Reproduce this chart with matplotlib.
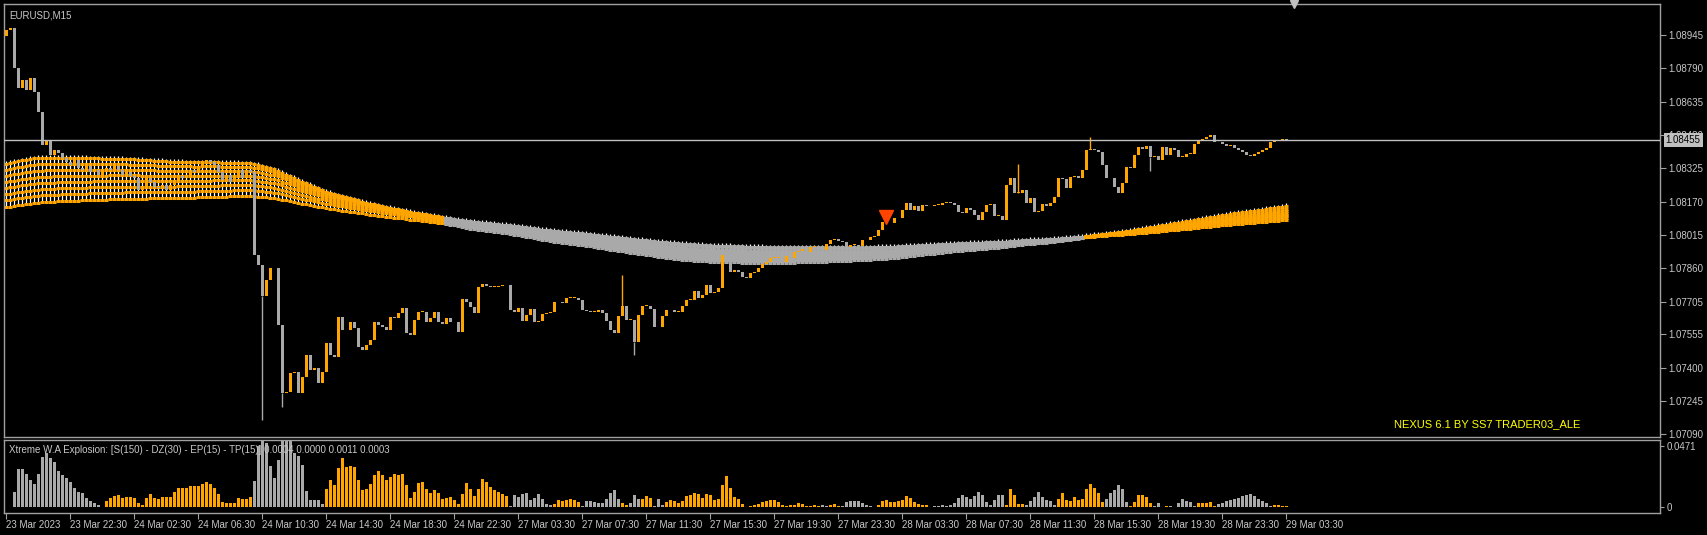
import matplotlib
matplotlib.use("Agg")
import matplotlib.pyplot as plt
import numpy as np

plt.rcParams['font.family'] = ['Liberation Sans', 'DejaVu Sans']

# EURUSD M15 closes, one per bar (23 Mar 18:00 -> 29 Mar 03:30)
closes = [
    1.08968, 1.08977, 1.08791, 1.08698, 1.08735, 1.08689, 1.08745, 1.08680, 1.08587, 1.08433,
    1.08457, 1.08387, 1.08410, 1.08396, 1.08373, 1.08355, 1.08343, 1.08364, 1.08327, 1.08317,
    1.08336, 1.08308, 1.08317, 1.08294, 1.08308, 1.08327, 1.08317, 1.08336, 1.08317, 1.08294,
    1.08308, 1.08289, 1.08280, 1.08225, 1.08234, 1.08280, 1.08262, 1.08238, 1.08234, 1.08248,
    1.08225, 1.08248, 1.08271, 1.08289, 1.08280, 1.08294, 1.08317, 1.08308, 1.08327, 1.08355,
    1.08364, 1.08355, 1.08343, 1.08308, 1.08271, 1.08294, 1.08262, 1.08289, 1.08317, 1.08280,
    1.08317, 1.08308, 1.07922, 1.07876, 1.07732, 1.07806, 1.07862, 1.07862, 1.07597, 1.07282,
    1.07286, 1.07375, 1.07379, 1.07282, 1.07356, 1.07458, 1.07389, 1.07398, 1.07328, 1.07379,
    1.07514, 1.07458, 1.07449, 1.07635, 1.07574, 1.07574, 1.07611, 1.07583, 1.07495, 1.07481,
    1.07505, 1.07528, 1.07611, 1.07597, 1.07588, 1.07574, 1.07635, 1.07630, 1.07653, 1.07676,
    1.07560, 1.07551, 1.07621, 1.07658, 1.07658, 1.07611, 1.07630, 1.07658, 1.07611, 1.07602,
    1.07630, 1.07611, 1.07611, 1.07565, 1.07718, 1.07704, 1.07681, 1.07653, 1.07774, 1.07788,
    1.07779, 1.07774, 1.07774, 1.07779, 1.07783, 1.07783, 1.07667, 1.07658, 1.07676, 1.07616,
    1.07644, 1.07672, 1.07611, 1.07616, 1.07648, 1.07653, 1.07658, 1.07704, 1.07704, 1.07700,
    1.07723, 1.07723, 1.07723, 1.07714, 1.07667, 1.07662, 1.07658, 1.07658, 1.07667, 1.07653,
    1.07616, 1.07574, 1.07560, 1.07639, 1.07686, 1.07621, 1.07621, 1.07518, 1.07644, 1.07686,
    1.07686, 1.07672, 1.07588, 1.07588, 1.07639, 1.07667, 1.07667, 1.07658, 1.07658, 1.07686,
    1.07714, 1.07714, 1.07755, 1.07723, 1.07737, 1.07783, 1.07746, 1.07751, 1.07769, 1.07922,
    1.07913, 1.07844, 1.07853, 1.07844, 1.07820, 1.07816, 1.07839, 1.07844, 1.07862, 1.07881,
    1.07890, 1.07909, 1.07909, 1.07913, 1.07890, 1.07918, 1.07909, 1.07936, 1.07941, 1.07950,
    1.07936, 1.07960, 1.07964, 1.07955, 1.07946, 1.07973, 1.07992, 1.07997, 1.07987, 1.07983,
    1.07960, 1.07969, 1.07969, 1.07964, 1.07992, 1.07992, 1.08006, 1.08011, 1.08039, 1.08076,
    1.08071, 1.08071, 1.08094, 1.08094, 1.08132, 1.08164, 1.08132, 1.08150, 1.08127, 1.08155,
    1.08150, 1.08150, 1.08155, 1.08155, 1.08164, 1.08169, 1.08164, 1.08155, 1.08122, 1.08118,
    1.08141, 1.08132, 1.08108, 1.08085, 1.08122, 1.08155, 1.08159, 1.08104, 1.08104, 1.08085,
    1.08248, 1.08280, 1.08211, 1.08211, 1.08225, 1.08164, 1.08187, 1.08122, 1.08127, 1.08159,
    1.08150, 1.08164, 1.08192, 1.08280, 1.08276, 1.08234, 1.08285, 1.08289, 1.08280, 1.08317,
    1.08410, 1.08416, 1.08410, 1.08401, 1.08343, 1.08280, 1.08280, 1.08238, 1.08211, 1.08257,
    1.08331, 1.08327, 1.08387, 1.08424, 1.08416, 1.08429, 1.08378, 1.08383, 1.08364, 1.08424,
    1.08387, 1.08420, 1.08410, 1.08378, 1.08378, 1.08392, 1.08392, 1.08438, 1.08452, 1.08461,
    1.08471, 1.08480, 1.08447, 1.08447, 1.08438, 1.08429, 1.08433, 1.08420, 1.08410, 1.08401,
    1.08387, 1.08383, 1.08392, 1.08401, 1.08410, 1.08420, 1.08447, 1.08457, 1.08452, 1.08461,
    1.08455,
]
first_open = 1.08940

# a few long wicks that stand out: bar -> (high, low)
wicks = {
    64: (None, 1.07156), 69: (None, 1.07217), 154: (1.07830, None),
    157: (None, 1.07458), 253: (1.08345, None), 271: (1.08471, None),
    286: (None, 1.08312),
}

# ribbon seeds (price at first bar) and EMA periods, fast to slow
ribbon_periods = [220, 250, 280, 310, 340, 370, 400, 430]
ribbon_seeds = [1.08340, 1.08312, 1.08284, 1.08256, 1.08228, 1.08200, 1.08172, 1.08140]

price_ticks = [1.08945, 1.08790, 1.08635, 1.08480, 1.08325, 1.08170, 1.08015,
               1.07860, 1.07705, 1.07555, 1.07400, 1.07245, 1.07090]
last_price = 1.08455

time_labels = ["23 Mar 2023", "23 Mar 22:30", "24 Mar 02:30", "24 Mar 06:30", "24 Mar 10:30",
               "24 Mar 14:30", "24 Mar 18:30", "24 Mar 22:30", "27 Mar 03:30", "27 Mar 07:30",
               "27 Mar 11:30", "27 Mar 15:30", "27 Mar 19:30", "27 Mar 23:30", "28 Mar 03:30",
               "28 Mar 07:30", "28 Mar 11:30", "28 Mar 15:30", "28 Mar 19:30", "28 Mar 23:30",
               "29 Mar 03:30"]
bars_per_label = 16
signal_bar = 220

ORANGE = "#ffa500"
GRAY = "#a9a9a9"
FRAME = "#a0a0a0"
TXT = "#c8c8c8"
FS = 7

c = np.array(closes)
n = len(c)
o = np.concatenate([[first_open], c[:-1]])
x = np.arange(n)


def ema(values, period, seed):
    a = 2.0 / (period + 1)
    out = np.empty(len(values))
    prev = seed
    for k, v in enumerate(values):
        prev = prev + a * (v - prev)
        out[k] = prev
    return out


W, H = 1707, 535
fig = plt.figure(figsize=(W / 100, H / 100), dpi=100, facecolor="black")
ax = fig.add_axes([4 / W, 1 - 437 / H, 1656 / W, 433 / H], facecolor="black")
sub = fig.add_axes([4 / W, 1 - 513 / H, 1656 / W, 73 / H], facecolor="black")

for a in (ax, sub):
    for s in a.spines.values():
        s.set_color(FRAME)
        s.set_linewidth(1)
    a.set_xlim(-0.5, 413.5)

# --- ribbon
emas = np.array([ema(c, p, s) for p, s in zip(ribbon_periods, ribbon_seeds)])
top = emas.max(axis=0)
bot = emas.min(axis=0)
ax.vlines(x, bot, top + 0.00012, color="white", lw=0.9, zorder=1)
for k in range(n):
    bull = emas[0, k] >= emas[-1, k]
    col = ORANGE if bull else GRAY
    if not bull:
        ax.vlines(k, emas[0, k], emas[3, k], color=GRAY, lw=3, zorder=2)
    ax.hlines(emas[:, k], k - 0.38, k + 0.38, color=col, lw=2.2, zorder=2)

# --- candles
hi = np.maximum(o, c)
lo = np.minimum(o, c)
colors = [ORANGE if c[k] >= o[k] else GRAY for k in range(n)]
for k, (h, l) in wicks.items():
    if h is not None:
        ax.vlines(k, hi[k], h, color=colors[k], lw=1, zorder=3)
    if l is not None:
        ax.vlines(k, l, lo[k], color=colors[k], lw=1, zorder=3)
body = np.maximum(hi - lo, 0.000025)
ax.bar(x, body, bottom=lo, width=0.75, color=colors, linewidth=0, zorder=3)

ax.axhline(last_price, color="#c0c0c0", lw=1, zorder=4)

# sell signal arrow
ax.vlines(signal_bar, c[signal_bar] + 0.00030, c[signal_bar] + 0.00062, color="#ff4500", lw=3.5, zorder=6)
ax.plot([signal_bar], [c[signal_bar] + 0.00026], marker="v", color="#ff4500", markersize=10, zorder=6)

ymax = last_price + 136.4 * 0.00004645
ymin = last_price - 296.6 * 0.00004645
ax.set_ylim(ymin, ymax)
ax.yaxis.tick_right()
ax.set_yticks(price_ticks)
ax.set_yticklabels([f"{p:.5f}" for p in price_ticks])
ax.tick_params(axis="y", colors=FRAME, labelcolor=TXT, labelsize=FS, length=4, pad=2)
ax.set_xticks([])
ax.text(1.0035, last_price, f"{last_price:.5f}", transform=ax.get_yaxis_transform(),
        color="black", fontsize=FS, va="center", ha="left", zorder=10,
        bbox=dict(boxstyle="square,pad=0.2", fc="#c0c0c0", ec="none"))
ax.text(0.003, 0.985, "EURUSD,M15", transform=ax.transAxes, color=TXT, fontsize=FS, va="top")
ax.text((1394 - 4) / 1656, (437 - 424) / 433, "NEXUS 6.1 BY SS7 TRADER03_ALE", transform=ax.transAxes,
        color="#ffff00", fontsize=8, va="center")
ax.plot([322], [1], transform=ax.get_xaxis_transform(), marker="v", color="#c0c0c0",
        markersize=6, clip_on=False, zorder=10)

# --- Xtreme W.A Explosion histogram
macd = ema(c, 20, c[0]) - ema(c, 40, c[0])
trend = np.concatenate([[0.0, 0.0], macd[2:] - macd[:-2]]) * 150
hcol = [ORANGE if t >= 0 else GRAY for t in trend]
sub.bar(x, np.abs(trend), width=0.75, color=hcol, linewidth=0)
sub.set_ylim(-0.0046, 0.0517)
sub.yaxis.tick_right()
sub.set_yticks([0, 0.0471])
sub.set_yticklabels(["0", "0.0471"])
sub.tick_params(axis="y", colors=FRAME, labelcolor=TXT, labelsize=FS, length=3, pad=2)
sub.text(0.003, 0.93, "Xtreme W.A Explosion: [S(150) - DZ(30) - EP(15) - TP(15)] 0.0004 0.0000 0.0011 0.0003",
         transform=sub.transAxes, color=TXT, fontsize=FS, va="top")

ticks = [k * bars_per_label for k in range(len(time_labels))]
sub.set_xticks(ticks)
sub.set_xticklabels(time_labels, ha="left")
sub.tick_params(axis="x", colors=FRAME, labelcolor=TXT, labelsize=FS, length=4, pad=1)

fig.savefig("out.png", dpi=100, facecolor="black")
